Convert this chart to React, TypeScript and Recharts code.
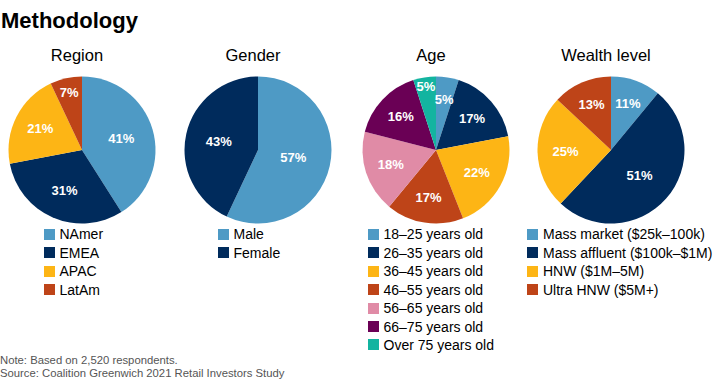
import { PieChart, Pie, Cell } from "recharts";

const BLUE = "#4E9AC5";
const NAVY = "#002B5C";
const AMBER = "#FDB515";
const RUST = "#BE4418";
const PINK = "#E08BA6";
const PLUM = "#6A0055";
const TEAL = "#13B4A0";

const REGION_LABELS = ["NAmer", "EMEA", "APAC", "LatAm"];
const REGION_VALUES = [41, 31, 21, 7];
const REGION_COLORS = [BLUE, NAVY, AMBER, RUST];

const GENDER_LABELS = ["Male", "Female"];
const GENDER_VALUES = [57, 43];
const GENDER_COLORS = [BLUE, NAVY];

const AGE_LABELS = [
  "18–25 years old",
  "26–35 years old",
  "36–45 years old",
  "46–55 years old",
  "56–65 years old",
  "66–75 years old",
  "Over 75 years old",
];
const AGE_VALUES = [5, 17, 22, 17, 18, 16, 5];
const AGE_COLORS = [BLUE, NAVY, AMBER, RUST, PINK, PLUM, TEAL];

const WEALTH_LABELS = [
  "Mass market ($25k–100k)",
  "Mass affluent ($100k–$1M)",
  "HNW ($1M–5M)",
  "Ultra HNW ($5M+)",
];
const WEALTH_VALUES = [11, 51, 25, 13];
const WEALTH_COLORS = [BLUE, NAVY, AMBER, RUST];

const SANS = '"Liberation Sans", Arial, sans-serif';
const RADIAN = Math.PI / 180;

const toRows = (labels: string[], values: number[]) =>
  labels.map((name, i) => ({ name, value: values[i] }));

const GROUPS = [
  { title: "Region", rows: toRows(REGION_LABELS, REGION_VALUES), colors: REGION_COLORS, cx: 77, legendX: 43.5 },
  { title: "Gender", rows: toRows(GENDER_LABELS, GENDER_VALUES), colors: GENDER_COLORS, cx: 253, legendX: 217.5 },
  { title: "Age", rows: toRows(AGE_LABELS, AGE_VALUES), colors: AGE_COLORS, cx: 431, legendX: 367.5 },
  { title: "Wealth level", rows: toRows(WEALTH_LABELS, WEALTH_VALUES), colors: WEALTH_COLORS, cx: 606, legendX: 527 },
];

const CY = 145;
const RADIUS = 73.5;

// small slices sit further out; a tiny last slice next to a tiny first one gets pushed out so they don't collide
const makeLabel = (values: number[]) => (props: any) => {
  const { cx, cy, midAngle, outerRadius, index } = props;
  const total = values.reduce((a, b) => a + b, 0);
  const p = values[index] / total;
  let r = outerRadius * (0.72 - 0.4 * p);
  const last = values.length - 1;
  if (index === last && p < 0.08 && values[0] / total < 0.08) r = outerRadius * 0.88;
  else if (p < 0.08 && index === last) r = outerRadius * 0.8;
  const x = cx + r * Math.cos(-midAngle * RADIAN);
  const y = cy + r * Math.sin(-midAngle * RADIAN);
  return (
    <text
      x={x}
      y={y}
      fill="#fff"
      textAnchor="middle"
      dominantBaseline="central"
      fontFamily={SANS}
      fontWeight="bold"
      fontSize={13}
    >
      {values[index]}%
    </text>
  );
};

export default function App() {
  return (
    <div
      style={{
        position: "absolute",
        left: 0,
        top: 0,
        width: 720,
        height: 390,
        background: "#fff",
        fontFamily: SANS,
        color: "#000",
      }}
    >
      <div
        style={{
          position: "absolute",
          left: 1,
          top: 8,
          fontSize: 22,
          fontWeight: "bold",
          lineHeight: "26px",
        }}
      >
        Methodology
      </div>

      {GROUPS.map((g) => (
        <div
          key={g.title}
          style={{
            position: "absolute",
            left: g.cx - 80,
            width: 160,
            top: 44.5,
            textAlign: "center",
            fontSize: 16.5,
            lineHeight: "20px",
          }}
        >
          {g.title}
        </div>
      ))}

      <div style={{ position: "absolute", left: 0, top: 0 }}>
        <PieChart width={720} height={230}>
          {GROUPS.map((g) => (
            <Pie
              key={g.title}
              data={g.rows}
              dataKey="value"
              nameKey="name"
              cx={g.cx}
              cy={CY}
              outerRadius={RADIUS}
              startAngle={90}
              endAngle={-270}
              stroke="none"
              labelLine={false}
              label={makeLabel(g.rows.map((d) => d.value))}
              isAnimationActive={false}
            >
              {g.rows.map((_, i) => (
                <Cell key={i} fill={g.colors[i % g.colors.length]} />
              ))}
            </Pie>
          ))}
        </PieChart>
      </div>

      {GROUPS.map((g) => (
        <div
          key={g.title + "-legend"}
          style={{ position: "absolute", left: g.legendX, top: 225.1 }}
        >
          {g.rows.map((d, i) => (
            <div
              key={d.name}
              style={{
                display: "flex",
                alignItems: "center",
                height: 18.45,
                fontSize: 14,
                whiteSpace: "nowrap",
              }}
            >
              <span
                style={{
                  display: "inline-block",
                  width: 11,
                  height: 11,
                  marginRight: 5,
                  background: g.colors[i % g.colors.length],
                }}
              />
              {d.name}
            </div>
          ))}
        </div>
      ))}

      <div
        style={{
          position: "absolute",
          left: 0,
          top: 354,
          fontSize: 11.3,
          lineHeight: "12.5px",
          color: "#555",
        }}
      >
        <div>Note: Based on 2,520 respondents.</div>
        <div>Source: Coalition Greenwich 2021 Retail Investors Study</div>
      </div>
    </div>
  );
}
